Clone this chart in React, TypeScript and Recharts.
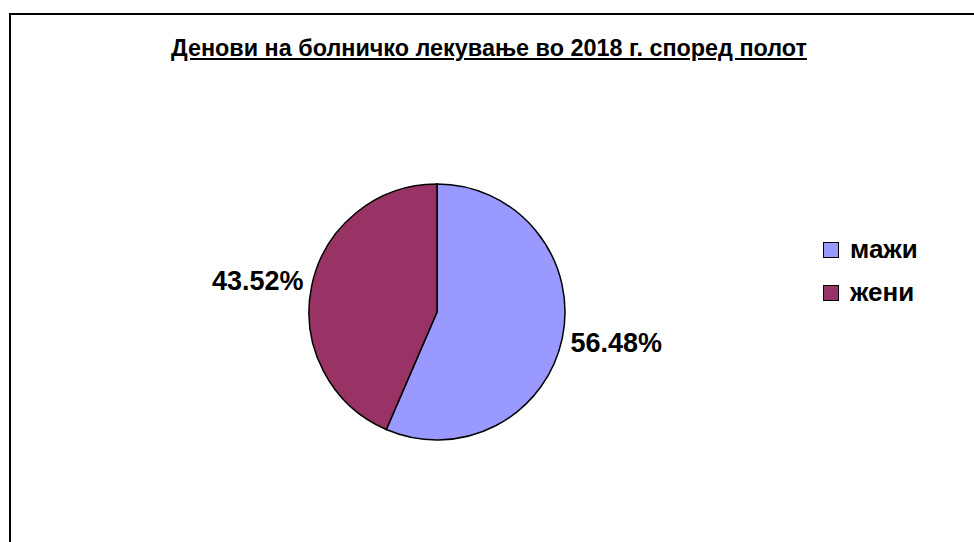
import React from "react";
import { PieChart, Pie, Cell, Legend } from "recharts";

const categories = ["мажи", "жени"];
const shares = [56.48, 43.52];
const colors = ["#9999FF", "#993366"];

const data = categories.map((name, i) => ({ name, value: shares[i] }));

const RADIAN = Math.PI / 180;

// labels sit a little flatter than the slice mid-angle, as in the original
const renderLabel = (props: any) => {
  const { cx, cy, midAngle, outerRadius, value } = props;
  const r = outerRadius + 55;
  const x = cx + r * Math.cos(-midAngle * RADIAN);
  const y = cy + r * 0.85 * Math.sin(-midAngle * RADIAN);
  return (
    <text x={x} y={y} textAnchor="middle" dominantBaseline="central" fill="#000" fontSize={27} fontWeight="bold" fontFamily="Liberation Sans, Arial, sans-serif">
      {value.toFixed(2)}%
    </text>
  );
};

const renderLegend = (props: any) => {
  const payload = [...(props.payload || [])].sort(
    (a: any, b: any) => categories.indexOf(a.value) - categories.indexOf(b.value)
  );
  return (
    <div style={{ fontFamily: "Liberation Sans, Arial, sans-serif" }}>
      {payload.map((entry: any) => (
        <div key={entry.value} style={{ display: "flex", alignItems: "center", height: 43 }}>
          <span style={{ display: "inline-block", width: 14, height: 14, background: entry.color, border: "1.5px solid #000", marginRight: 11 }} />
          <span style={{ fontSize: 26, fontWeight: "bold", color: "#000" }}>{entry.value}</span>
        </div>
      ))}
    </div>
  );
};

export default function App() {
  return (
    <div style={{ position: "absolute", left: 0, top: 0, width: 974, height: 542, overflow: "hidden", background: "#fff" }}>
      <div style={{ position: "absolute", left: 9, top: 13, width: 1000, height: 600, borderTop: "2px solid #000", borderLeft: "2px solid #000" }} />
      <div style={{ position: "absolute", left: 0, top: 35, width: 978, textAlign: "center", fontFamily: "Liberation Sans, Arial, sans-serif", fontSize: 23.4, fontWeight: "bold", textDecoration: "underline" }}>
        Денови на болничко лекување во 2018 г. според полот
      </div>
      <div style={{ position: "absolute", left: 0, top: 0 }}>
        <PieChart width={974} height={542}>
          <Pie
            data={data}
            dataKey="value"
            nameKey="name"
            cx={432}
            cy={307}
            outerRadius={128}
            startAngle={90}
            endAngle={-270}
            stroke="#000"
            strokeWidth={1.5}
            label={renderLabel}
            labelLine={false}
            isAnimationActive={false}
          >
            {data.map((d, i) => (
              <Cell key={d.name} fill={colors[i]} />
            ))}
          </Pie>
          <Legend
            layout="vertical"
            content={renderLegend}
            wrapperStyle={{ position: "absolute", left: 823, top: 228, width: 140 }}
          />
        </PieChart>
      </div>
    </div>
  );
}
